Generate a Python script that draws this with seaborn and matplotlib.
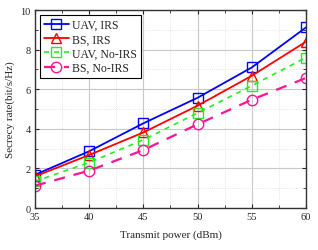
import matplotlib
matplotlib.use("Agg")
import matplotlib.pyplot as plt
import seaborn as sns
import pandas as pd
from matplotlib.ticker import MultipleLocator

power = [35, 40, 45, 50, 55, 60]
uav_irs = [1.68, 2.87, 4.28, 5.57, 7.10, 9.12]
bs_irs = [1.60, 2.68, 3.82, 5.17, 6.68, 8.40]
uav_noirs = [1.35, 2.30, 3.45, 4.80, 6.18, 7.60]
bs_noirs = [1.13, 1.89, 2.93, 4.23, 5.47, 6.57]
labels = ["UAV, IRS", "BS, IRS", "UAV, No-IRS", "BS, No-IRS"]

sns.set_style("ticks")
plt.rcParams['font.family'] = ['Liberation Serif', 'DejaVu Serif']

fig, ax = plt.subplots(figsize=(3.18, 2.51), dpi=100)
fig.subplots_adjust(left=0.11, right=0.962, top=0.956, bottom=0.167)

styles = [
    dict(color="#0000ff", marker="s", ls="-", lw=1.3),
    dict(color="#ff0000", marker="^", ls="-", lw=1.3),
    dict(color="#22ee22", marker="s", ls=(0, (3, 3)), lw=1.2),
    dict(color="#ff1493", marker="o", ls=(0, (5, 4)), lw=1.6),
]
for vals, lab, st in zip([uav_irs, bs_irs, uav_noirs, bs_noirs], labels, styles):
    df = pd.DataFrame({"p": power, "r": vals})
    sns.lineplot(data=df, x="p", y="r", ax=ax, label=lab, color=st["color"],
                 marker=st["marker"], markersize=7.5, markerfacecolor="none",
                 markeredgecolor=st["color"], markeredgewidth=1.0,
                 linestyle=st["ls"], linewidth=st["lw"])

ax.set_xlim(35, 60)
ax.set_ylim(0, 10)
ax.xaxis.set_major_locator(MultipleLocator(5))
ax.xaxis.set_minor_locator(MultipleLocator(2.5))
ax.yaxis.set_major_locator(MultipleLocator(2))
ax.yaxis.set_minor_locator(MultipleLocator(1))
ax.grid(True, which="major", color="#c8c8c8", lw=0.8, ls="-")
ax.grid(True, which="minor", color="#dcdcdc", lw=0.6, ls=":")
ax.tick_params(which="both", direction="in", top=True, right=True, labelsize=7.5, pad=3)
ax.tick_params(which="major", length=3)
ax.tick_params(which="minor", length=2)
for s in ax.spines.values():
    s.set_color("#333333")
    s.set_linewidth(1.0)
ax.set_xlabel("Transmit power (dBm)", fontsize=8, labelpad=6)
ax.set_ylabel("Secrecy rate(bit/s/Hz)", fontsize=8, labelpad=4)
leg = ax.legend(loc="upper left", fontsize=8.5, frameon=True, fancybox=False,
                edgecolor="black", framealpha=1, borderpad=0.35, labelspacing=0.2,
                handlelength=2.1, handletextpad=0.3, borderaxespad=0.4)
leg.get_frame().set_linewidth(0.8)
fig.savefig("out.png", dpi=100)
